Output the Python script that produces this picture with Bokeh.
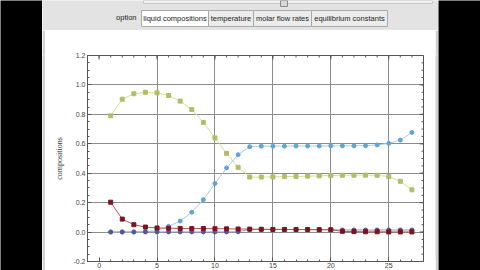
import math
from bokeh.plotting import figure
from bokeh.layouts import row, column
from bokeh.models import Range1d, FixedTicker, PrintfTickFormatter
from bokeh.embed import file_html
from bokeh.resources import INLINE
from bokeh.core.properties import value

# ---------------- data ----------------
stages = list(range(1, 28))
comp_yellow = [0.79, 0.903, 0.94, 0.95, 0.946, 0.928, 0.89, 0.833, 0.745, 0.64,
               0.535, 0.44, 0.374, 0.374, 0.375, 0.377, 0.378, 0.380, 0.382, 0.384,
               0.386, 0.387, 0.387, 0.386, 0.377, 0.345, 0.287]
comp_blue = [0.0, 0.0, 0.0, 0.003, 0.01, 0.039, 0.075, 0.135, 0.22, 0.33,
             0.436, 0.526, 0.58, 0.584, 0.584, 0.584, 0.585, 0.585, 0.585, 0.586,
             0.586, 0.586, 0.587, 0.592, 0.603, 0.625, 0.677]
comp_red = [0.203, 0.088, 0.05, 0.034, 0.028, 0.026, 0.025, 0.024, 0.024, 0.023,
            0.022, 0.021, 0.020, 0.019, 0.018, 0.018, 0.017, 0.017, 0.016, 0.016,
            0.005, 0.003, 0.002, 0.002, 0.001, 0.001, 0.001]
comp_purple = [0.001, 0.001, 0.001, 0.001, 0.001, 0.001, 0.001, 0.001, 0.001, 0.001,
               0.001, 0.002, 0.018, 0.018, 0.018, 0.018, 0.017, 0.017, 0.016, 0.016,
               0.014, 0.014, 0.014, 0.014, 0.014, 0.014, 0.014]
x_ticks = [0, 5, 10, 15, 20, 25]
x_grid = [5, 10, 15, 20, 25]
x_minor = list(range(-1, 29))
y_ticks = [-0.2, 0.0, 0.2, 0.4, 0.6, 0.8, 1.0, 1.2]
y_grid = [0.0, 0.2, 0.4, 0.6, 0.8, 1.0]
y_minor = [round(-0.2 + 0.05 * i, 2) for i in range(29)]
y_label = "compositions"
option_label = "option"
tab_labels = ["liquid compositions", "temperature", "molar flow rates", "equilibrium constants"]

FONT = value("Liberation Sans")
GRAY = "#e3e3e3"
FRAME = "#555555"
X0, X1 = -1, 28
Y0, Y1 = -0.2, 1.2


def blank(w, h, color, xr=(0, 1), yr=(0, 1)):
    f = figure(width=w, height=h, output_backend="svg", toolbar_location=None,
               x_range=Range1d(*xr), y_range=Range1d(*yr),
               x_axis_location=None, y_axis_location=None, min_border=0)
    f.grid.visible = False
    f.background_fill_color = color
    f.border_fill_color = color
    f.outline_line_color = None
    return f


# ---------------- header (page coordinates) ----------------
hdr = blank(396, 30, GRAY, xr=(42, 438), yr=(30, 0))
hdr.quad(left=[143], right=[432], top=[0], bottom=[3], fill_color="#f0f0f0", line_color="#c8c8c8")
hdr.quad(left=[280], right=[287], top=[0], bottom=[6], fill_color="#d8d8d8", line_color="#888888")
hdr.text(x=[136], y=[17], text=[option_label], text_font=FONT, text_font_size="7.5px",
         text_align="right", text_baseline="middle", text_color="#222222")
edges = [141, 208, 253, 311, 387]
fills = ["#ffffff", "#ececec", "#ececec", "#ececec"]
hdr.quad(left=edges[:-1], right=edges[1:], top=[10] * 4, bottom=[26] * 4,
         fill_color=fills, line_color="#a8a8a8")
hdr.text(x=[(edges[i] + edges[i + 1]) / 2 for i in range(4)], y=[18] * 4, text=tab_labels,
         text_font=FONT, text_font_size="7.5px", text_align="center",
         text_baseline="middle", text_color="#222222")

# ---------------- main plot ----------------
p = figure(width=390, height=240, output_backend="svg", toolbar_location=None,
           x_range=Range1d(X0, X1), y_range=Range1d(Y0, Y1),
           min_border_left=42, min_border_right=12, min_border_top=25, min_border_bottom=9)
p.background_fill_color = "white"
p.border_fill_color = "white"
p.outline_line_color = FRAME

p.xaxis.ticker = FixedTicker(ticks=x_ticks, minor_ticks=x_minor)
p.yaxis.ticker = FixedTicker(ticks=y_ticks, minor_ticks=y_minor)
p.yaxis.formatter = PrintfTickFormatter(format="%.1f")
p.xgrid.ticker = FixedTicker(ticks=x_grid)
p.ygrid.ticker = FixedTicker(ticks=y_grid)
p.grid.grid_line_color = "#8c8c8c"
p.grid.grid_line_width = 1

for ax in [p.xaxis[0], p.yaxis[0]]:
    ax.axis_line_color = FRAME
    ax.major_tick_line_color = FRAME
    ax.minor_tick_line_color = FRAME
    ax.major_tick_in = 4
    ax.major_tick_out = 0
    ax.minor_tick_in = 2
    ax.minor_tick_out = 0
    ax.major_label_text_font = "Liberation Sans"
    ax.major_label_text_font_size = "7px"
    ax.major_label_text_color = "#444444"
    ax.major_label_standoff = 2

p.xaxis[0].axis_label = None
p.xaxis[0].major_label_standoff = 1
p.yaxis[0].axis_label = y_label
p.yaxis[0].axis_label_text_font = "Liberation Serif"
p.yaxis[0].axis_label_text_font_size = "8px"
p.yaxis[0].axis_label_text_font_style = "normal"
p.yaxis[0].axis_label_text_color = "#333333"
p.yaxis[0].axis_label_standoff = 6

# inward frame ticks on the top and right edges
p.ray(x=x_ticks, y=[Y1] * len(x_ticks), length=4, length_units="screen",
      angle=-math.pi / 2, line_color=FRAME, line_width=1)
p.ray(x=x_minor, y=[Y1] * len(x_minor), length=2, length_units="screen",
      angle=-math.pi / 2, line_color=FRAME, line_width=1)
p.ray(x=[X1] * len(y_ticks), y=y_ticks, length=4, length_units="screen",
      angle=math.pi, line_color=FRAME, line_width=1)
p.ray(x=[X1] * len(y_minor), y=y_minor, length=2, length_units="screen",
      angle=math.pi, line_color=FRAME, line_width=1)

series = [
    (comp_yellow, "#d8e090", "#b2bd6c", "square"),
    (comp_blue, "#a3cfe8", "#62a5d3", "circle"),
    (comp_purple, "#9a9ac8", "#55588f", "circle"),
    (comp_red, "#b65656", "#7a1420", "square"),
]
for vals, lc, mc, mk in series:
    p.line(stages, vals, line_color=lc, line_width=1)
    p.scatter(stages, vals, marker=mk, size=4, fill_color=mc, line_color=mc)

left_edge = blank(3, 240, "#d2d2d2")
right_edge = blank(3, 240, "#d2d2d2")
middle = column(hdr, row(left_edge, p, right_edge, spacing=0), spacing=0)
black_l = blank(42, 270, "black")
black_r = blank(42, 270, "black")
page = row(black_l, middle, black_r, spacing=0)

open("out.html", "w").write(file_html(page, INLINE))
